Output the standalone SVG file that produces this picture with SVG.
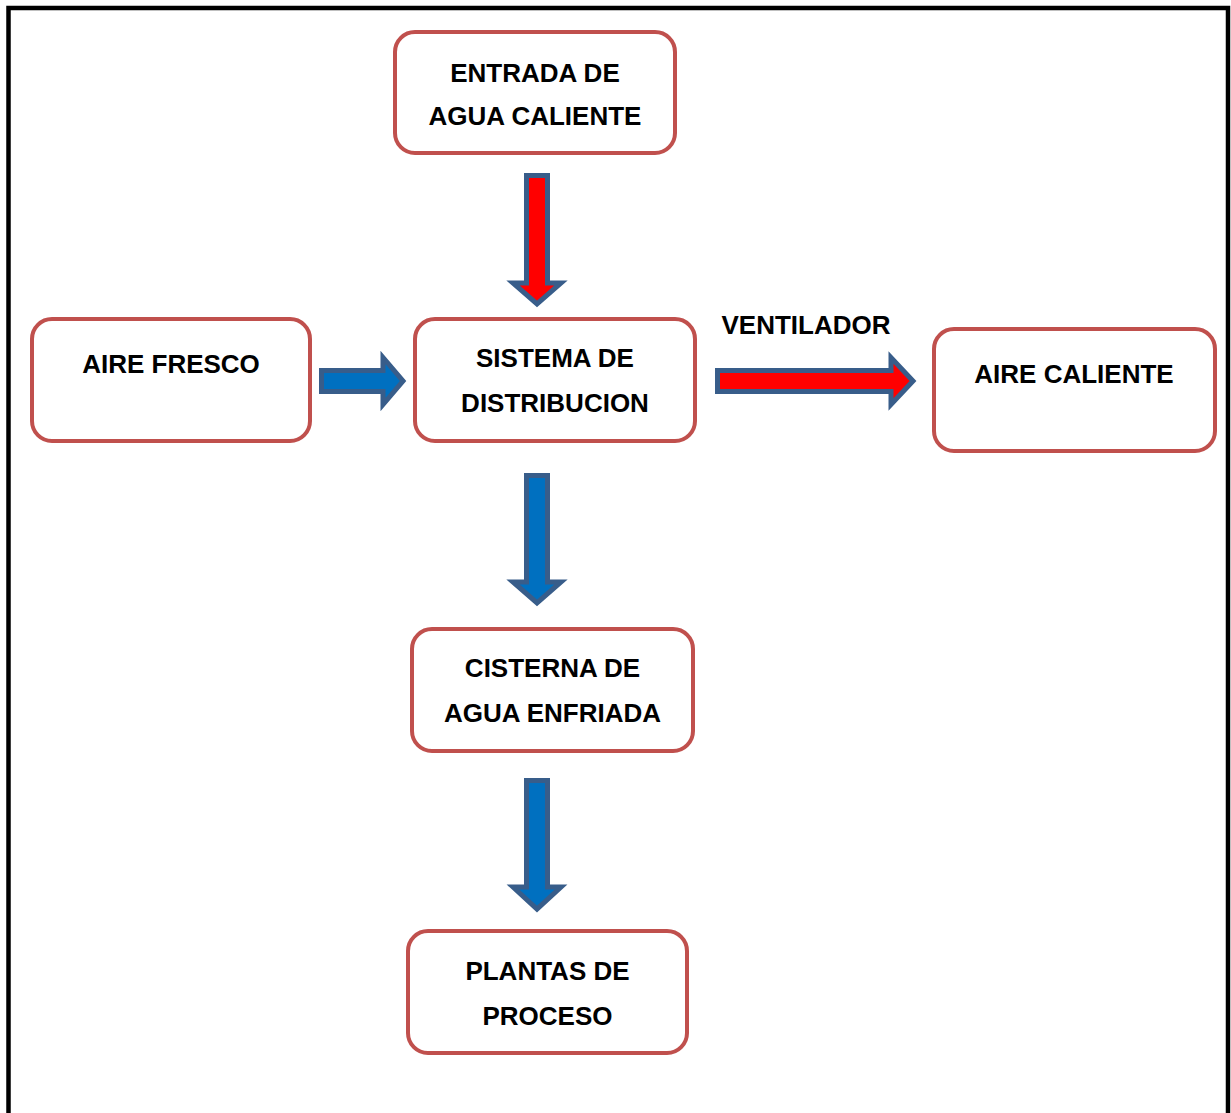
<svg xmlns="http://www.w3.org/2000/svg" width="1231" height="1113" viewBox="0 0 1231 1113">
<style>
.box{fill:#fff;stroke:#C0504D;stroke-width:4}
.t{font-family:"Liberation Sans",Arial,sans-serif;font-weight:bold;font-size:26px;fill:#000;text-anchor:middle}
.ar{stroke:#385D8A;stroke-width:5;stroke-linejoin:miter}
.red{fill:#FF0000}
.blue{fill:#0070C0}
</style>
<rect width="1231" height="1113" fill="#fff"/>
<path d="M8.5,1115 V8 H1228 V1115" fill="none" stroke="#000" stroke-width="4.5"/>
<g id="connectors">
<polygon class="ar red" points="526.5,175.5 547.5,175.5 547.5,283 561,283 537,304 513,283 526.5,283"/>
<polygon class="ar blue" points="321.5,370.5 383,370.5 383,357.5 403,381 383,404.5 383,391.5 321.5,391.5"/>
<polygon class="ar red" points="717.5,370.5 891,370.5 891,357.5 913,381 891,404.5 891,391.5 717.5,391.5"/>
<polygon class="ar blue" points="526.5,475.5 547.5,475.5 547.5,582 561,582 537,603 513,582 526.5,582"/>
<polygon class="ar blue" points="526.5,780.5 547.5,780.5 547.5,887 561,887 537,909 513,887 526.5,887"/>
<text class="t" x="806" y="334">VENTILADOR</text>
</g>
<g id="entrada">
<rect class="box" x="395" y="32" width="280" height="121" rx="20"/>
<text class="t" x="535" y="82">ENTRADA DE</text>
<text class="t" x="535" y="125">AGUA CALIENTE</text>
</g>
<g id="aire-fresco">
<rect class="box" x="32" y="319" width="278" height="122" rx="20"/>
<text class="t" x="171" y="373">AIRE FRESCO</text>
</g>
<g id="sistema">
<rect class="box" x="415" y="319" width="280" height="122" rx="20"/>
<text class="t" x="555" y="367">SISTEMA DE</text>
<text class="t" x="555" y="412">DISTRIBUCION</text>
</g>
<g id="aire-caliente">
<rect class="box" x="934" y="329" width="281" height="122" rx="20"/>
<text class="t" x="1074" y="383">AIRE CALIENTE</text>
</g>
<g id="cisterna">
<rect class="box" x="412" y="629" width="281" height="122" rx="20"/>
<text class="t" x="552.5" y="677">CISTERNA DE</text>
<text class="t" x="552.5" y="722">AGUA ENFRIADA</text>
</g>
<g id="plantas">
<rect class="box" x="408" y="931" width="279" height="122" rx="20"/>
<text class="t" x="547.5" y="980">PLANTAS DE</text>
<text class="t" x="547.5" y="1025">PROCESO</text>
</g>
</svg>
